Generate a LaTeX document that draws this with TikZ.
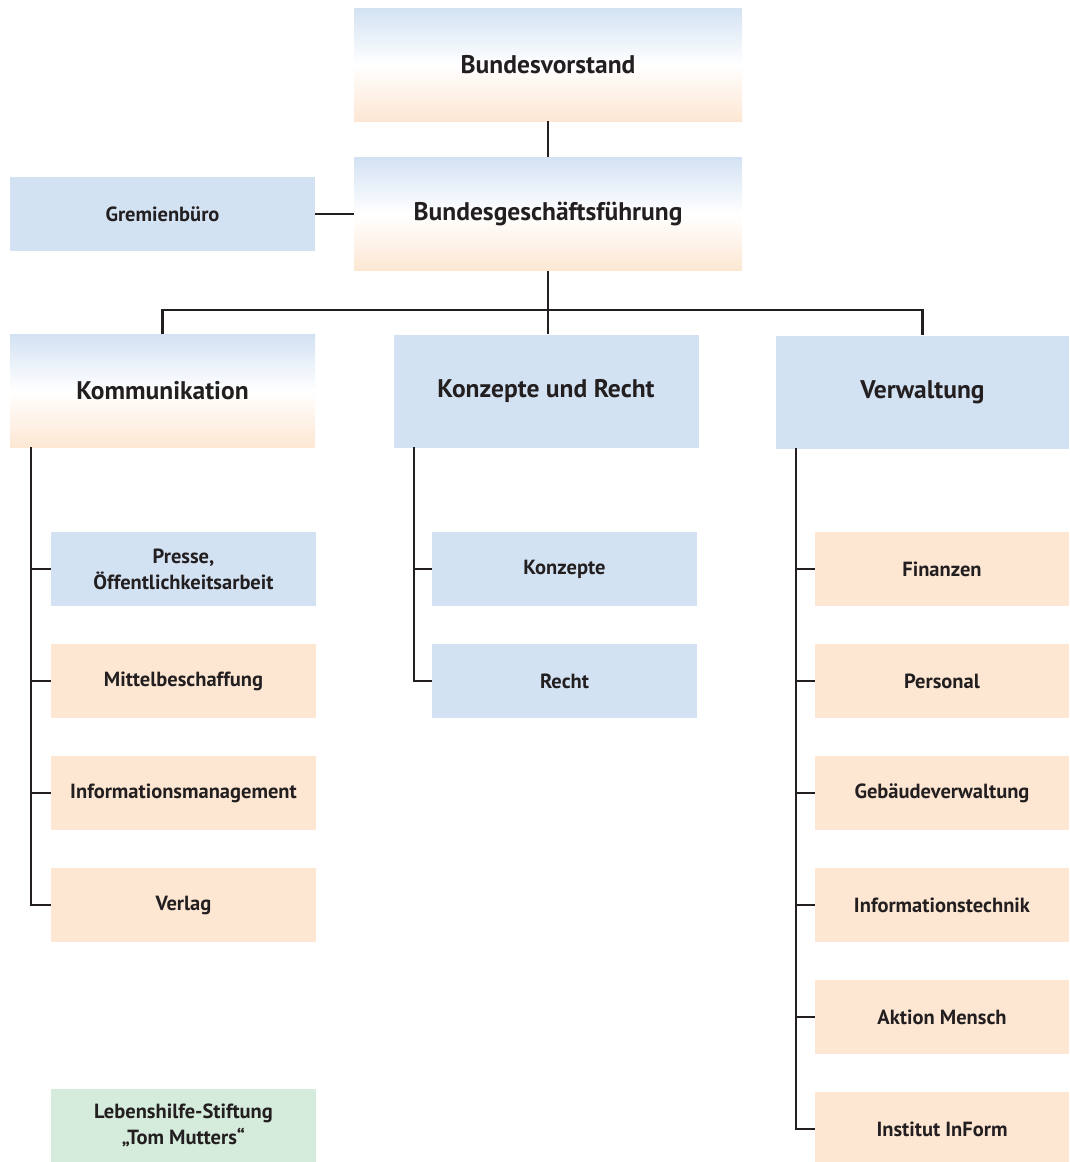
\documentclass[tikz,border=0pt]{standalone}
\usepackage{fontspec}
\setmainfont{PT Sans}
\usepackage{tikz}
\definecolor{hblau}{HTML}{D3E2F3}
\definecolor{horange}{HTML}{FDE7D3}
\definecolor{hgruen}{HTML}{D5EBDC}
\definecolor{tinte}{HTML}{231F20}
\tikzset{
  kasten/.style={inner sep=2pt,align=center,text=tinte,font=\bfseries\fontsize{20.5}{26}\selectfont,
    minimum width=265pt,minimum height=74pt},
  gross/.style={kasten,font=\bfseries\fontsize{25.5}{30}\selectfont,minimum height=113pt},
  blau/.style={fill=hblau},
  orange/.style={fill=horange},
  gruen/.style={fill=hgruen},
  verlauf/.style={top color=hblau,bottom color=horange,middle color=white},
  linie/.style={draw=tinte,line width=2.5pt}
}
\begin{document}
\begin{tikzpicture}[x=1pt,y=-1pt]
\useasboundingbox (0,0) rectangle (1069,1162);
% Leitung
\node[gross,verlauf,minimum width=388pt] (bv) at (548,64.5) {Bundesvorstand};
\node[gross,verlauf,minimum width=388pt] (bgf) at (548,214) {Bundesgeschäftsführung};
\node[kasten,blau,minimum width=305pt] (grem) at (162.5,214) {Gremienbüro};
\draw[linie] (bv) -- (bgf);
\draw[linie] (grem) -- (bgf);
% Bereiche
\node[gross,verlauf,minimum width=305pt] (kom) at (162.5,391) {Kommunikation};
\node[gross,blau,minimum width=305pt] (kon) at (546,391) {Konzepte und Recht};
\node[gross,blau,minimum width=293pt] (ver) at (922.5,392) {Verwaltung};
\coordinate (bus) at (548,310);
\draw[linie] (bgf.south) -- (bus);
\draw[linie] (kom.north) |- (bus) -| (ver.north);
\draw[linie] (bus) -- (bus |- kon.north);
% Kommunikation
\node[kasten,blau] (presse) at (183.5,569) {Presse,\\Öffentlichkeitsarbeit};
\node[kasten,orange] (mittel) at (183.5,681) {Mittelbeschaffung};
\node[kasten,orange] (infom) at (183.5,793) {Informationsmanagement};
\node[kasten,orange] (verlag) at (183.5,905) {Verlag};
\coordinate (kspine) at (31,447);
\draw[linie] (kspine) |- (verlag.west);
\foreach \n in {presse,mittel,infom}
  \draw[linie] (\n.west) -- (\n.west -| kspine);
% Konzepte und Recht
\node[kasten,blau] (konz) at (564.5,569) {Konzepte};
\node[kasten,blau] (recht) at (564.5,681) {Recht};
\coordinate (rspine) at (414,447);
\draw[linie] (rspine) |- (recht.west);
\draw[linie] (konz.west) -- (konz.west -| rspine);
% Verwaltung
\node[kasten,orange,minimum width=254pt] (fin) at (942,569) {Finanzen};
\node[kasten,orange,minimum width=254pt] (pers) at (942,681) {Personal};
\node[kasten,orange,minimum width=254pt] (geb) at (942,793) {Gebäudeverwaltung};
\node[kasten,orange,minimum width=254pt] (itech) at (942,905) {Informationstechnik};
\node[kasten,orange,minimum width=254pt] (aktion) at (942,1017) {Aktion Mensch};
\node[kasten,orange,minimum width=254pt] (inform) at (942,1129) {Institut InForm};
\coordinate (vspine) at (796,448);
\draw[linie] (vspine) |- (inform.west);
\foreach \n in {fin,pers,geb,itech,aktion}
  \draw[linie] (\n.west) -- (\n.west -| vspine);
% Stiftung
\node[kasten,gruen,minimum height=73pt] (stift) at (183.5,1125.5) {Lebenshilfe-Stiftung\\„Tom Mutters“};
\end{tikzpicture}
\end{document}
